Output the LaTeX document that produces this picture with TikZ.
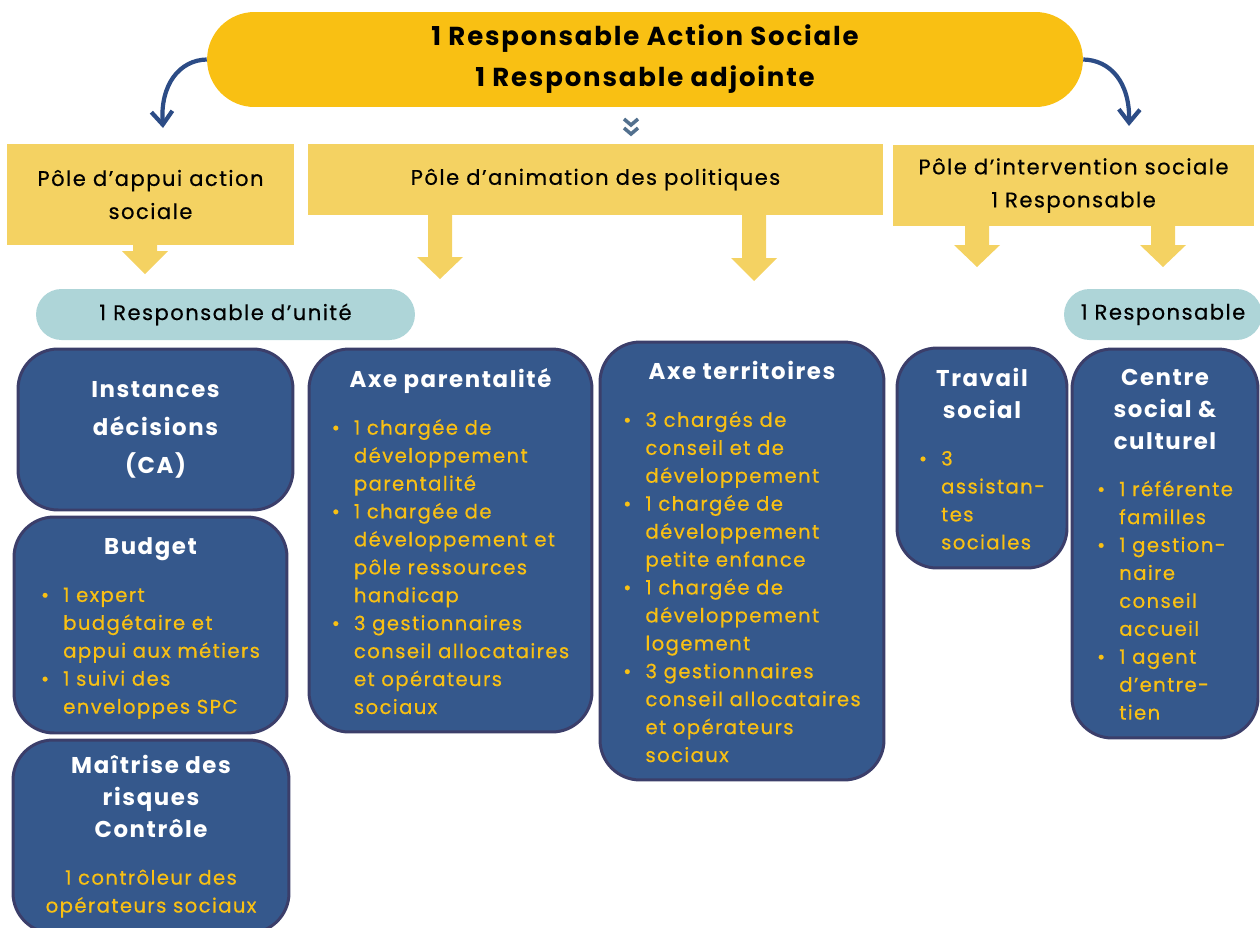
\documentclass[tikz,border=0pt]{standalone}
\usepackage{fontspec}
\setmainfont{Poppins}[LetterSpace=7, UprightFeatures={FakeBold=0.5}]
\usetikzlibrary{arrows.meta}

\definecolor{ordirection}{HTML}{F9C013}
\definecolor{jaunepole}{HTML}{F4D262}
\definecolor{turquoise}{HTML}{AED5D8}
\definecolor{bleucase}{HTML}{35588C}
\definecolor{bordcase}{HTML}{3B3E6A}
\definecolor{bleufleche}{HTML}{2C4C86}
\definecolor{chevron}{HTML}{52708E}

\newcommand{\titre}{\fontsize{13}{18}\selectfont\bfseries\color{white}}
\newcommand{\puce}{\textbullet}
\newcommand{\liste}[1]{\begin{tabular}[t]{@{}l@{\hspace{8pt}}l@{}}#1\\[-5.7pt]\end{tabular}}
\newcommand{\fleche}[4]{\fill[jaunepole] (#1-12,#2) -- (#1+12,#2) -- (#1+12,#3) -- (#1+23,#3) -- (#1,#4) -- (#1-23,#3) -- (#1-12,#3) -- cycle;}

\begin{document}
\begin{tikzpicture}[x=0.02cm, y=-0.02cm,
  direction/.style={fill=ordirection, rounded corners=0.95cm, align=center, inner sep=0pt, font=\fontsize{14.8}{23.3}\selectfont\bfseries},
  pole/.style={fill=jaunepole, align=center, inner sep=0pt, font=\fontsize{12}{18.8}\selectfont},
  unite/.style={fill=turquoise, rounded corners=0.51cm, inner sep=0pt, minimum height=1.02cm, font=\fontsize{12}{15}\selectfont},
  caseb/.style={draw=bordcase, line width=1.7pt, fill=bleucase, rounded corners=0.8cm, align=center, inner sep=0pt, text=ordirection, font=\fontsize{11.2}{15.9}\selectfont},
  courbe/.style={draw=bleufleche, line width=2.4pt, -{Straight Barb[length=7.5pt, width=12pt]}}]
\useasboundingbox (0,0) rectangle (1260,927);

% Direction
\node[direction, minimum width=17.52cm, minimum height=1.9cm] (dir) at (645,59.5) {1 Responsable Action Sociale\\1 Responsable adjointe};
\coordinate (gfin) at (163,128);
\coordinate (dfin) at (1129,126);
\draw[courbe] (dir.west) .. controls (180,60) and (160,84) .. (gfin);
\draw[courbe] (dir.east) .. controls (1110,60) and (1130,82) .. (dfin);
\draw[chevron, line width=2pt] (624,119) -- (631,125) -- (638,119);
\draw[chevron, line width=2pt] (624,128) -- (631,134) -- (638,128);

% Poles
\node[pole, minimum width=5.74cm, minimum height=2.02cm] (appui) at (150.5,194.5) {Pôle d’appui action\\sociale};
\node[pole, minimum width=11.5cm, minimum height=1.42cm] (anim) at (595.5,179.5) {Pôle d’animation des politiques};
\node[pole, minimum width=7.22cm, minimum height=1.62cm] (interv) at (1073.5,185.5) {Pôle d’intervention sociale\\1 Responsable};

% Fleches
\fleche{145}{244}{251}{274}
\fleche{440}{214}{257}{279}
\fleche{754}{214}{258}{281}
\fleche{977}{225}{245}{267}
\fleche{1163}{225}{245}{267}

% Responsables
\node[unite, minimum width=7.58cm] (respu) at (225.5,314.5) {1 Responsable d’unité};
\node[unite, minimum width=3.96cm] (respc) at (1163,314.5) {1 Responsable};

% Appui
\node[caseb, minimum width=5.5cm, minimum height=3.22cm] (inst) at (155.5,429.5) {{\titre Instances}\\[5.7pt]{\titre décisions}\\[5.7pt]{\titre (CA)}};
\node[caseb, minimum width=5.46cm, minimum height=4.32cm] (budget) at (150.5,625) {{\titre Budget}\\[10.8pt]
\liste{\puce & 1 expert\\ & budgétaire et\\ & appui aux métiers\\ \puce & 1 suivi des\\ & enveloppes SPC}};
\node[caseb, minimum width=5.52cm, minimum height=3.86cm] (risques) at (151,836.5) {{\titre Maîtrise des}\\[2.3pt]{\titre risques}\\[2.3pt]{\titre Contrôle}\\[10.8pt]
1 contrôleur des\\opérateurs sociaux};

% Animation
\node[caseb, minimum width=5.66cm, minimum height=7.66cm] (parent) at (450.5,540.5) {{\titre Axe parentalité}\\[10.8pt]
\liste{\puce & 1 chargée de\\ & développement\\ & parentalité\\ \puce & 1 chargée de\\ & développement et\\ & pôle ressources\\ & handicap\\ \puce & 3 gestionnaires\\ & conseil allocataires\\ & et opérateurs\\ & sociaux}};
\node[caseb, minimum width=5.68cm, minimum height=8.76cm] (territ) at (742,561) {{\titre Axe territoires}\\[10.8pt]
\liste{\puce & 3 chargés de\\ & conseil et de\\ & développement\\ \puce & 1 chargée de\\ & développement\\ & petite enfance\\ \puce & 1 chargée de\\ & développement\\ & logement\\ \puce & 3 gestionnaires\\ & conseil allocataires\\ & et opérateurs\\ & sociaux}};

% Intervention
\node[caseb, minimum width=3.4cm, minimum height=4.4cm] (travail) at (982,458) {{\titre Travail}\\[2.3pt]{\titre social}\\[10.8pt]
\liste{\puce & 3\\ & assistan-\\ & tes\\ & sociales}};
\node[caseb, minimum width=3.72cm, minimum height=7.78cm] (centre) at (1165,543.5) {{\titre Centre}\\[2.3pt]{\titre social \&}\\[2.3pt]{\titre culturel}\\[10.8pt]
\liste{\puce & 1 référente\\ & familles\\ \puce & 1 gestion-\\ & naire\\ & conseil\\ & accueil\\ \puce & 1 agent\\ & d’entre-\\ & tien}};
\end{tikzpicture}
\end{document}
